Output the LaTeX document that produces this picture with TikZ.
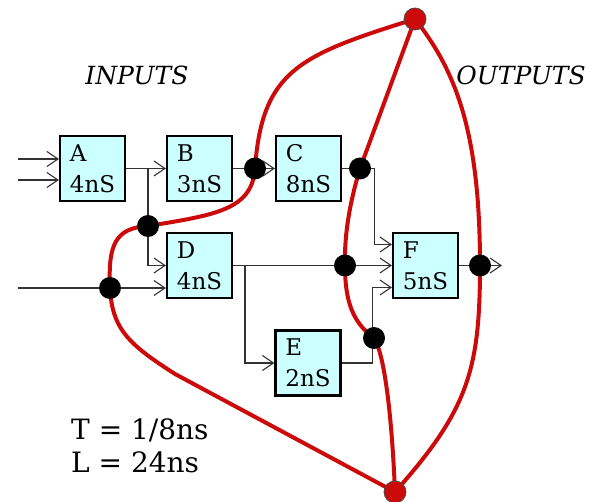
\documentclass[tikz,border=0pt]{standalone}
\usepackage{fontspec}
\setmainfont{DejaVu Serif}
\usetikzlibrary{arrows.meta,backgrounds}
\definecolor{stagefill}{RGB}{204,255,255}
\definecolor{cutred}{RGB}{204,10,10}

\begin{document}
\begin{tikzpicture}
	[x=1pt,y=-1pt,>={Straight Barb[length=11pt,width=15pt]},
		wire/.style={->,line width=1.1pt,black!80},
		stage/.style={rectangle,draw,line width=2.2pt,fill=stagefill,minimum size=65pt,inner sep=0pt,align=left,font=\fontsize{23}{31}\selectfont},
		cut dot/.style={circle,fill=black,minimum size=22pt,inner sep=0pt},
		cut end/.style={circle,draw=black!70,line width=0.8pt,fill=cutred,minimum size=22pt,inner sep=0pt},
		cut/.style={cutred,line width=4pt}]

	\useasboundingbox (0,0) rectangle (602,502);

	\node[stage] (A) at (92.5,168.5) {A\\4nS};
	\node[stage] (B) at (199.5,168.5) {B\\3nS};
	\node[stage] (C) at (308.5,168.5) {C\\8nS};
	\node[stage] (D) at (199.5,265.5) {D\\4nS};
	\node[stage] (E) at (308,363) {E\\2nS};
	\node[stage] (F) at (425.5,265.5) {F\\5nS};

	\coordinate (inA1) at (18,159);
	\coordinate (inA2) at (18,180);
	\coordinate (inD) at (18,288);
	\coordinate (outF) at (502,265.5);
	\coordinate (tapA) at (148,168.5);
	\coordinate (tapD) at (245,265.5);

	\draw[wire] (inA1) -- (inA1 -| A.west);
	\draw[wire] (inA2) -- (inA2 -| A.west);
	\draw[wire] (inD) -- (inD -| D.west);
	\draw[wire] (A) -- (B);
	\draw[wire] (tapA) |- (D);
	\draw[wire] (B) -- (C);
	\draw[wire] (C.east) -- ++(32,0) |- ([yshift=21pt]F.west);
	\draw[wire] (D) -- (F);
	\draw[wire] (tapD) |- (E);
	\draw[wire] (E.east) -| ([xshift=-19pt,yshift=-22pt]F.west) -- ([yshift=-22pt]F.west);
	\draw[wire] (F) -- (outF);

	\node[cut end] (top) at (415,19) {};
	\node[cut end] (bottom) at (395,492) {};
	\node[cut dot] (c1) at (255,168.5) {};
	\node[cut dot] (c2) at (148,226) {};
	\node[cut dot] (c3) at (110,288) {};
	\node[cut dot] (c4) at (360,168.5) {};
	\node[cut dot] (c5) at (345,265.5) {};
	\node[cut dot] (c6) at (374,338) {};
	\node[cut dot] (c7) at (480,265.5) {};

	\begin{scope}[on background layer]
		\draw[cut] (top.center) .. controls (300,55) and (262,70) .. (c1.center)
			.. controls (252,210) and (215,215) .. (c2.center)
			.. controls (115,228) and (108,245) .. (c3.center)
			.. controls (112,330) and (130,345) .. (175,374) -- (bottom.center);
		\draw[cut] (top.center) -- (c4.center)
			.. controls (352,195) and (344,230) .. (c5.center)
			.. controls (345,300) and (352,322) .. (c6.center)
			.. controls (385,355) and (392,420) .. (bottom.center);
		\draw[cut] (top.center) .. controls (455,70) and (480,130) .. (c7.center)
			.. controls (480,370) and (468,410) .. (bottom.center);
	\end{scope}

	\node[font=\itshape\fontsize{25}{30}\selectfont] (inputs) at (137,75) {INPUTS};
	\node[font=\itshape\fontsize{25}{30}\selectfont] (outputs) at (521,75) {OUTPUTS};
	\node[anchor=north west,align=left,inner sep=0pt,font=\fontsize{28}{33}\selectfont] (rate) at (71,419) {T = 1/8ns\\L = 24ns};
\end{tikzpicture}
\end{document}
